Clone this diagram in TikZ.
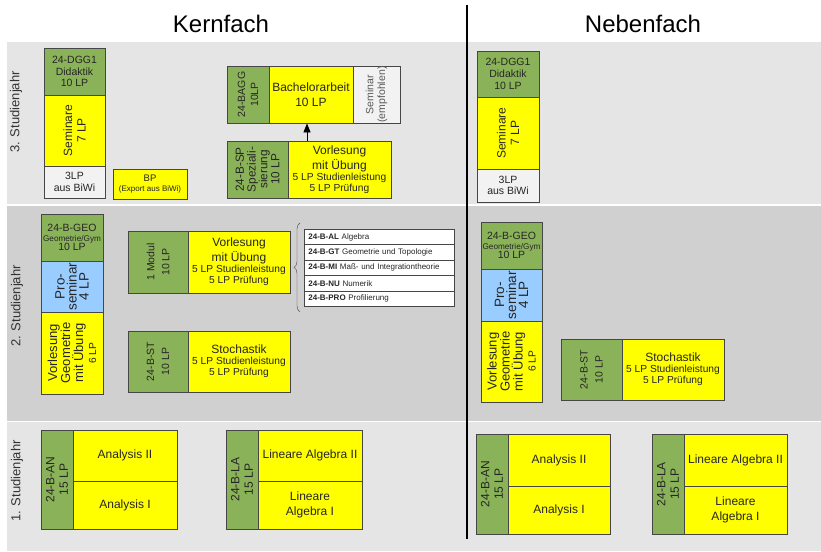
\documentclass[tikz,border=0pt]{standalone}
\usepackage{fontspec}
\setmainfont{Liberation Sans}
\usetikzlibrary{arrows.meta,decorations.pathreplacing}

\definecolor{modgreen}{RGB}{138,178,88}
\definecolor{lvyellow}{RGB}{255,255,0}
\definecolor{psblue}{RGB}{153,204,255}
\definecolor{extgray}{RGB}{242,242,242}
\definecolor{bandlight}{RGB}{229,229,229}
\definecolor{banddark}{RGB}{208,208,208}
\definecolor{boxline}{RGB}{70,70,70}

\newcommand{\fontlv}{\fontsize{12}{15}\selectfont}
\newcommand{\fontlp}{\fontsize{10.2}{11.5}\selectfont}
\newcommand{\fontmod}{\fontsize{10.5}{11.7}\selectfont}
\newcommand{\fontmini}{\fontsize{8}{9.5}\selectfont}

\tikzset{
	cell/.style={draw=boxline, line width=0.8pt, inner sep=0pt, align=center, text=black!85},
	modbox/.style={cell, fill=modgreen, font=\fontmod},
	lvbox/.style={cell, fill=lvyellow, font=\fontlv},
	psbox/.style={cell, fill=psblue, font=\fontlv},
	extbox/.style={cell, fill=extgray, font=\fontmod},
	listbox/.style={cell, fill=white, font=\fontmini, anchor=north west, minimum width=150pt, minimum height=15.4pt, inner xsep=4pt, text width=142pt, align=left},
	jahr/.style={rotate=90, font=\fontsize{13}{15}\selectfont, text=black!80}
}

\begin{document}
\begin{tikzpicture}[x=1pt, y=-1pt]

	\useasboundingbox (0,0) rectangle (821,551);
	\fill[white] (0,0) rectangle (821,551);

	\fill[bandlight] (7,42) rectangle (821,204);
	\fill[banddark] (7,205.5) rectangle (821,420.5);
	\fill[bandlight] (7,422) rectangle (821,551);

	\node[font=\fontsize{24}{28}\selectfont] (kern) at (221,23.5) {Kernfach};
	\node[font=\fontsize{24}{28}\selectfont] (neben) at (643,23.5) {Nebenfach};

	\draw[line width=2pt] (466.5,5) -- (466.5,539);

	\node[jahr] (jahr3) at (16,112) {3. Studienjahr};
	\node[jahr] (jahr2) at (17,306) {2. Studienjahr};
	\node[jahr] (jahr1) at (17,481) {1. Studienjahr};

	\node[modbox, minimum width=61pt, minimum height=47pt] (dggK) at (74.5,71.5) {24-DGG1\\Didaktik\\10 LP};
	\node[lvbox, rotate=90, minimum width=71pt, minimum height=61pt, font=\fontsize{12}{13.5}\selectfont] (semK) at (74.5,130.5) {Seminare\\7 LP};
	\node[extbox, minimum width=61pt, minimum height=32pt] (biwiK) at (74.5,182) {3LP\\aus BiWi};
	\node[lvbox, minimum width=74pt, minimum height=30pt, font=\fontsize{9.5}{10.5}\selectfont] (bpK) at (150,184) {BP\\\fontmini(Export aus BiWi)};

	\node[modbox, rotate=90, minimum width=57pt, minimum height=42pt, font=\fontsize{10.5}{13}\selectfont] (baggK) at (248,94.5) {24-BAGG\\10LP};
	\node[lvbox, minimum width=84pt, minimum height=57pt] (baK) at (311,94.5) {Bachelorarbeit\\10 LP};
	\node[extbox, rotate=90, minimum width=57pt, minimum height=47pt, text=black!65] (semeK) at (376.5,94.5) {Seminar\\(empfohlen)};

	\node[modbox, rotate=90, minimum width=57pt, minimum height=61pt, font=\fontsize{11.8}{11.8}\selectfont] (spK) at (257.5,169.5) {24-B-SP\\Speziali-\\sierung\\10 LP};
	\node[lvbox, minimum width=103pt, minimum height=57pt] (spvK) at (339.5,169.5) {Vorlesung\\mit Übung\\[-4pt]\fontlp 5 LP Studienleistung\\[-4pt]\fontlp 5 LP Prüfung};

	\coordinate (arrK) at (307,0);
	\draw[-{Triangle[length=9pt,width=7pt]}, line width=0.8pt] (spvK.north -| arrK) -- (baK.south -| arrK);

	\node[modbox, minimum width=62pt, minimum height=47pt] (geoK) at (72,237.5) {24-B-GEO\\[-2pt]\fontsize{8.2}{9}\selectfont Geometrie/Gym\\[-2pt]\fontmod 10 LP};
	\node[psbox, rotate=90, minimum width=51pt, minimum height=62pt, font=\fontsize{13.5}{12}\selectfont] (proK) at (72,286.5) {Pro-\\seminar\\4 LP};
	\node[lvbox, rotate=90, minimum width=82pt, minimum height=62pt, font=\fontsize{13}{13}\selectfont] (vgK) at (72,353) {Vorlesung\\Geometrie\\mit Übung\\\fontlp 6 LP};

	\node[modbox, rotate=90, minimum width=62pt, minimum height=60pt, font=\fontsize{10.5}{15}\selectfont] (modK) at (158,262) {1 Modul\\10 LP};
	\node[lvbox, minimum width=102pt, minimum height=62pt] (modvK) at (239,262) {Vorlesung\\mit Übung\\[-4pt]\fontlp 5 LP Studienleistung\\[-4pt]\fontlp 5 LP Prüfung};

	\node[listbox] (alK) at (304,229) {\textbf{24-B-AL} Algebra};
	\node[listbox] (gtK) at (304,244.4) {\textbf{24-B-GT} Geometrie und Topologie};
	\node[listbox] (miK) at (304,259.8) {\textbf{24-B-MI} Maß- und Integrationtheorie};
	\node[listbox] (nuK) at (304,275.2) {\textbf{24-B-NU} Numerik};
	\node[listbox] (proflK) at (304,290.6) {\textbf{24-B-PRO} Profilierung};

	\draw[boxline, decorate, decoration={brace, amplitude=6pt}] ([shift={(-4pt,-5pt)}]proflK.south west) -- ([shift={(-4pt,6pt)}]alK.north west);

	\node[modbox, rotate=90, minimum width=61pt, minimum height=60pt, font=\fontsize{10.5}{15}\selectfont] (stK) at (158,361.5) {24-B-ST\\10 LP};
	\node[lvbox, minimum width=102pt, minimum height=61pt] (stvK) at (239,361.5) {Stochastik\\[-4pt]\fontlp 5 LP Studienleistung\\[-4pt]\fontlp 5 LP Prüfung};

	\node[modbox, rotate=90, minimum width=99pt, minimum height=32pt, font=\fontsize{12}{13.3}\selectfont] (anK) at (57,479.5) {24-B-AN\\15 LP};
	\node[lvbox, minimum width=104pt, minimum height=51pt] (an2K) at (125,455.5) {Analysis II};
	\node[lvbox, minimum width=104pt, minimum height=48pt] (an1K) at (125,505) {Analysis I};

	\node[modbox, rotate=90, minimum width=99pt, minimum height=32pt, font=\fontsize{12}{13.3}\selectfont] (laK) at (242,479.5) {24-B-LA\\15 LP};
	\node[lvbox, minimum width=104pt, minimum height=51pt] (la2K) at (310,455.5) {Lineare Algebra II};
	\node[lvbox, minimum width=104pt, minimum height=48pt] (la1K) at (310,505) {Lineare\\Algebra I};

	\node[modbox, minimum width=62pt, minimum height=46pt] (dggN) at (508,74) {24-DGG1\\Didaktik\\10 LP};
	\node[lvbox, rotate=90, minimum width=72pt, minimum height=62pt, font=\fontsize{12}{13.5}\selectfont] (semN) at (508,133) {Seminare\\7 LP};
	\node[extbox, minimum width=62pt, minimum height=33pt] (biwiN) at (508,185.5) {3LP\\aus BiWi};

	\node[modbox, minimum width=61pt, minimum height=47pt] (geoN) at (511.5,245.5) {24-B-GEO\\[-2pt]\fontsize{8.2}{9}\selectfont Geometrie/Gym\\[-2pt]\fontmod 10 LP};
	\node[psbox, rotate=90, minimum width=52pt, minimum height=61pt, font=\fontsize{13.5}{12}\selectfont] (proN) at (511.5,295) {Pro-\\seminar\\4 LP};
	\node[lvbox, rotate=90, minimum width=81pt, minimum height=61pt, font=\fontsize{13}{13}\selectfont] (vgN) at (511.5,361.5) {Vorlesung\\Geometrie\\mit Übung\\\fontlp 6 LP};

	\node[modbox, rotate=90, minimum width=61pt, minimum height=61pt, font=\fontsize{10.5}{15}\selectfont] (stN) at (591.5,369.5) {24-B-ST\\10 LP};
	\node[lvbox, minimum width=102pt, minimum height=61pt] (stvN) at (673,369.5) {Stochastik\\[-4pt]\fontlp 5 LP Studienleistung\\[-4pt]\fontlp 5 LP Prüfung};

	\node[modbox, rotate=90, minimum width=100pt, minimum height=32pt, font=\fontsize{12}{13.3}\selectfont] (anN) at (492,484) {24-B-AN\\15 LP};
	\node[lvbox, minimum width=102pt, minimum height=52pt] (an2N) at (559,460) {Analysis II};
	\node[lvbox, minimum width=102pt, minimum height=48pt] (an1N) at (559,510) {Analysis I};

	\node[modbox, rotate=90, minimum width=100pt, minimum height=32pt, font=\fontsize{12}{13.3}\selectfont] (laN) at (668,484) {24-B-LA\\15 LP};
	\node[lvbox, minimum width=103pt, minimum height=52pt] (la2N) at (735.5,460) {Lineare Algebra II};
	\node[lvbox, minimum width=103pt, minimum height=48pt] (la1N) at (735.5,510) {Lineare\\Algebra I};

\end{tikzpicture}
\end{document}
